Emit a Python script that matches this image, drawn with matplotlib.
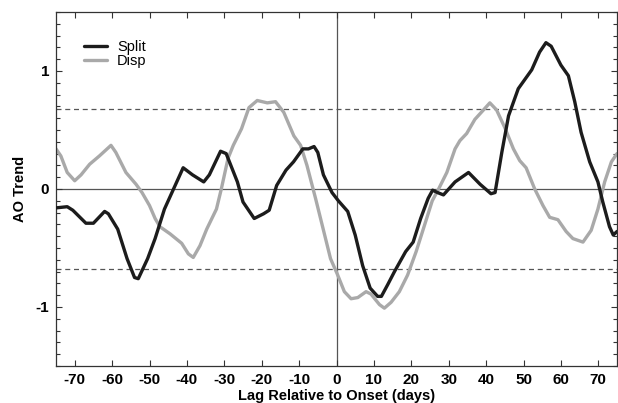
import matplotlib
matplotlib.use("Agg")
import matplotlib.pyplot as plt
from matplotlib.ticker import MultipleLocator

plt.rcParams['font.family'] = ['Liberation Sans', 'DejaVu Sans']
plt.rcParams['axes.unicode_minus'] = False

split_lag = [-75, -72, -70.5, -67, -65, -62, -61, -58.5, -56, -54, -53, -50.5, -48.5, -46, -44,
             -41, -38.5, -35.5, -34, -31, -29.5, -26.5, -25, -22, -19.5, -18, -16, -13.5, -11.5,
             -9, -7.5, -6, -5, -3.5, -1.2, 0.5, 3, 5, 7, 9, 11, 12, 13.7, 15.5, 18.5, 20.5, 22.5,
             24.5, 25.7, 27, 28.6, 31.7, 35.3, 38.4, 41.3, 42.4, 44.2, 46, 48.6, 50.4, 52.2, 54.3,
             56, 57.4, 60, 62, 63.7, 65.4, 67.7, 69.9, 71.2, 73, 74, 75]
split_val = [-0.16, -0.15, -0.18, -0.29, -0.29, -0.19, -0.21, -0.34, -0.59, -0.75, -0.76, -0.59,
             -0.42, -0.17, -0.03, 0.18, 0.12, 0.06, 0.12, 0.32, 0.30, 0.06, -0.11, -0.25, -0.21,
             -0.18, 0.03, 0.16, 0.23, 0.34, 0.34, 0.36, 0.31, 0.12, -0.03, -0.10, -0.19, -0.39,
             -0.65, -0.84, -0.91, -0.91, -0.81, -0.70, -0.53, -0.45, -0.25, -0.08, -0.01, -0.03,
             -0.05, 0.06, 0.14, 0.04, -0.04, -0.03, 0.31, 0.62, 0.85, 0.93, 1.01, 1.16, 1.24, 1.21,
             1.05, 0.96, 0.74, 0.48, 0.23, 0.06, -0.11, -0.32, -0.39, -0.36]

disp_lag = [-75, -73.7, -72, -70, -68.3, -66, -63.4, -60.3, -59, -56.3, -53.6, -52, -50, -48.5,
            -47.2, -44.5, -41.4, -39.6, -38.3, -36.5, -34.7, -32.1, -30.8, -29, -27.6, -25.4,
            -23.4, -21.2, -18.5, -16.3, -14.1, -11.4, -9.6, -7.9, -5.6, -3.4, -1.6, 0.2, 2.1, 3.9,
            5.7, 7.9, 9.2, 11.5, 12.8, 14.6, 16.8, 19, 21.3, 23.5, 25.6, 27.3, 29.5, 31.7, 33,
            34.8, 37, 39.3, 41, 42.8, 45, 47.3, 49, 50.7, 53, 55.2, 57, 59.2, 61.4, 63.2, 65.9,
            68.1, 69.9, 71.7, 73.5, 75]
disp_val = [0.34, 0.28, 0.14, 0.07, 0.12, 0.21, 0.28, 0.37, 0.31, 0.14, 0.04, -0.03, -0.14,
            -0.25, -0.32, -0.38, -0.46, -0.55, -0.58, -0.48, -0.34, -0.17, 0.0, 0.26, 0.37, 0.51,
            0.69, 0.75, 0.73, 0.74, 0.65, 0.45, 0.37, 0.20, -0.08, -0.36, -0.59, -0.72, -0.87,
            -0.93, -0.92, -0.87, -0.89, -0.98, -1.01, -0.96, -0.87, -0.73, -0.53, -0.31, -0.10,
            0.0, 0.14, 0.34, 0.41, 0.47, 0.59, 0.67, 0.73, 0.67, 0.52, 0.34, 0.24, 0.18, 0.0,
            -0.14, -0.24, -0.26, -0.36, -0.42, -0.45, -0.35, -0.17, 0.06, 0.23, 0.30]

sig_level = 0.68
xticks = list(range(-70, 71, 10))
yticks = [-1, 0, 1]

fig = plt.figure(figsize=(6.18, 4.03), dpi=100)
ax = fig.add_axes([56/618, 1-366/403, (617-56)/618, (366-12)/403])

ax.axhline(0, color='#555555', lw=0.9, zorder=1)
ax.axvline(0, color='#555555', lw=0.9, zorder=1)
ax.axhline(sig_level, color='#555555', lw=0.9, ls=(0, (4, 3)), zorder=1)
ax.axhline(-sig_level, color='#555555', lw=0.9, ls=(0, (4, 3)), zorder=1)

ax.plot(disp_lag, disp_val, color='#a9a9a9', lw=2.4, label='Disp', zorder=2,
        solid_joinstyle='round', solid_capstyle='round')
ax.plot(split_lag, split_val, color='#1c1c1c', lw=2.4, label='Split', zorder=3,
        solid_joinstyle='round', solid_capstyle='round')

ax.set_xlim(-75, 75)
ax.set_ylim(-1.5, 1.5)
ax.set_xticks(xticks)
ax.set_xticklabels([str(t) for t in xticks])
ax.set_yticks(yticks)
ax.set_yticklabels([str(t) for t in yticks])
ax.yaxis.set_minor_locator(MultipleLocator(0.1))

ax.tick_params(axis='both', which='both', direction='in', top=True, right=True,
               color='#333333', width=0.8)
ax.tick_params(axis='both', which='major', length=4, pad=5, labelsize=11)
ax.tick_params(axis='both', which='minor', length=3)
for lbl in ax.get_xticklabels() + ax.get_yticklabels():
    lbl.set_fontweight('bold')
for s in ax.spines.values():
    s.set_color('#333333')
    s.set_linewidth(0.9)

ax.set_xlabel('Lag Relative to Onset (days)', fontsize=10.5, fontweight='bold', labelpad=1.5)
ax.set_ylabel('AO Trend', fontsize=10.5, fontweight='bold', labelpad=6)

h, l = ax.get_legend_handles_labels()
ax.legend([h[1], h[0]], [l[1], l[0]], loc='upper left', frameon=False, fontsize=10.5,
          handlelength=1.6, handletextpad=0.65, labelspacing=0.0, borderpad=0,
          bbox_to_anchor=(0.05, 0.92), borderaxespad=0)

fig.savefig('out.png', dpi=100)
